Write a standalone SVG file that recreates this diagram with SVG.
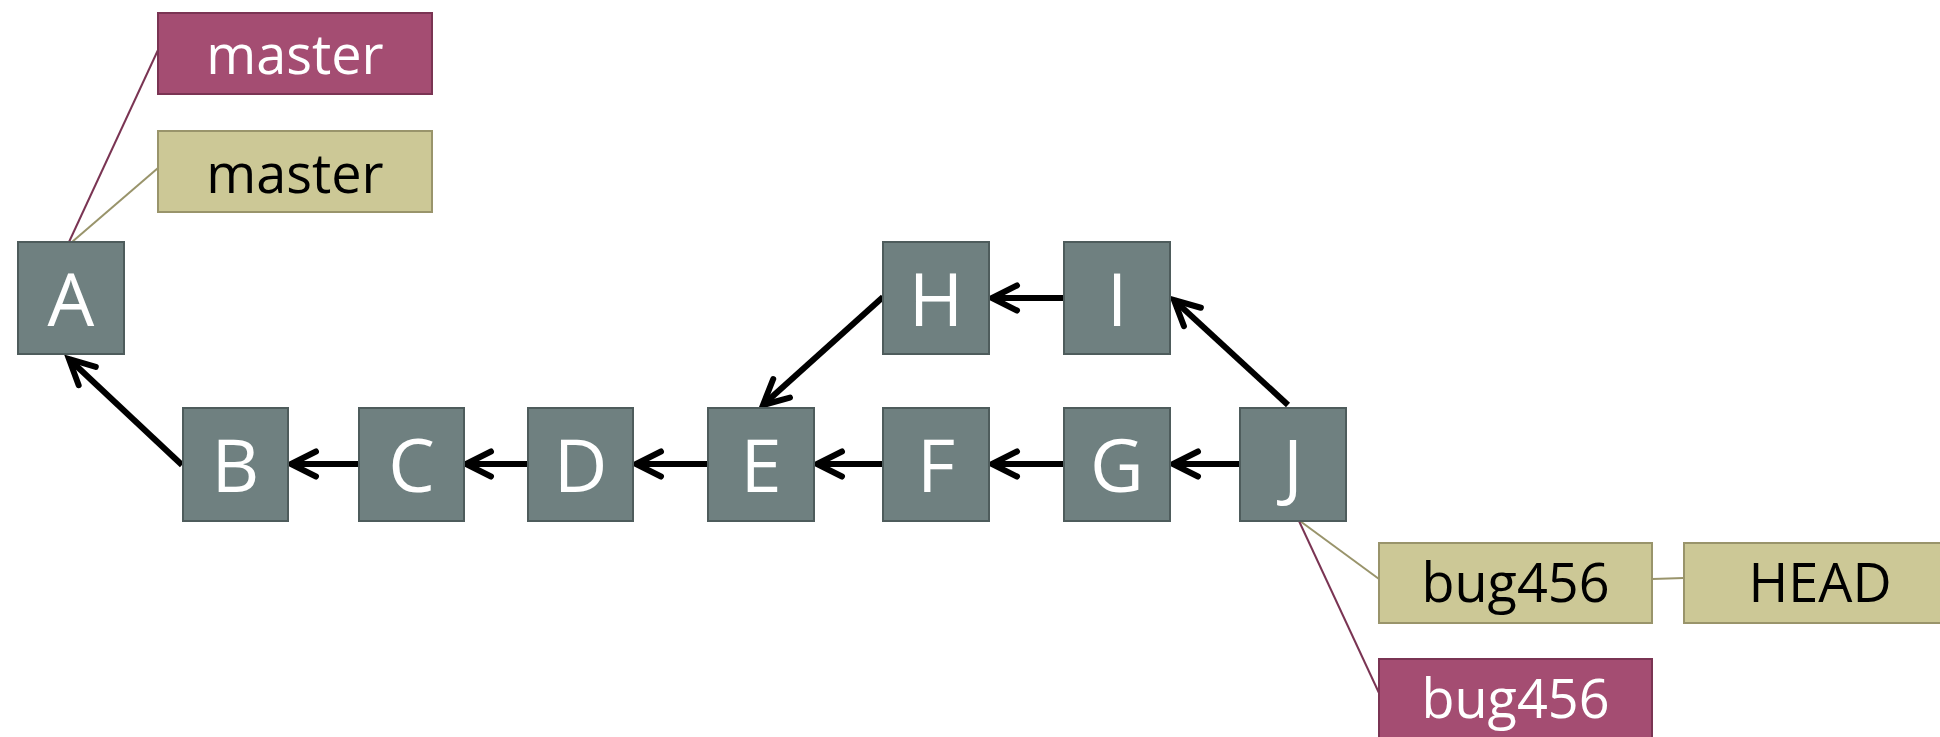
<svg xmlns="http://www.w3.org/2000/svg" width="1940" height="737" viewBox="0 0 1940 737">
<style>
.commit rect{fill:#6F8080;stroke:#4E5C5C;stroke-width:2}
.commit text{fill:#FFFFFF;font-family:"Open Sans","Noto Sans",sans-serif;font-size:74px;text-anchor:middle}
.red rect{fill:#A44D72;stroke:#7A3453;stroke-width:2}
.red text{fill:#FFFFFF;font-family:"Open Sans","Noto Sans",sans-serif;font-size:54px;text-anchor:middle}
.olive rect{fill:#CCC896;stroke:#99946B;stroke-width:2}
.olive text{fill:#000000;font-family:"Open Sans","Noto Sans",sans-serif;font-size:54px;text-anchor:middle}
.edge{stroke:#000;stroke-width:6;fill:none;marker-end:url(#arr)}
.lred{stroke:#7A3453;stroke-width:2;fill:none}
.lolive{stroke:#99946B;stroke-width:2;fill:none}
</style>
<defs>
<marker id="arr" markerUnits="userSpaceOnUse" viewBox="-30 -18 36 36" markerWidth="36" markerHeight="36" refX="0" refY="0" orient="auto" overflow="visible">
<path d="M -25,-12.5 L 0,0 L -25,12.5" fill="none" stroke="#000" stroke-width="6" stroke-linecap="round" stroke-linejoin="miter"/>
</marker>
</defs>
<rect width="1940" height="737" fill="#FFFFFF"/>
<g id="connectors">
<line class="lred" x1="69" y1="242" x2="158" y2="50"/>
<line class="lolive" x1="72" y1="242" x2="158" y2="168"/>
<line class="lolive" x1="1300" y1="521" x2="1379" y2="579"/>
<line class="lred" x1="1299" y1="521" x2="1379" y2="693"/>
<line class="lolive" x1="1652" y1="579" x2="1684" y2="578"/>
<line class="edge" x1="182" y1="465" x2="69" y2="359"/>
<line class="edge" x1="359" y1="464" x2="291" y2="464"/>
<line class="edge" x1="528" y1="464" x2="466" y2="464"/>
<line class="edge" x1="708" y1="464" x2="636" y2="464"/>
<line class="edge" x1="883" y1="464" x2="817" y2="464"/>
<line class="edge" x1="1064" y1="464" x2="992" y2="464"/>
<line class="edge" x1="1240" y1="464" x2="1173" y2="464"/>
<line class="edge" x1="1064" y1="298" x2="992" y2="298"/>
<line class="edge" x1="883" y1="297" x2="763" y2="405"/>
<line class="edge" x1="1288" y1="405" x2="1174" y2="300"/>
</g>
<g id="master-red" class="red"><rect x="158" y="13" width="274" height="81"/><text x="295" y="74">master</text></g>
<g id="master-olive" class="olive"><rect x="158" y="131" width="274" height="81"/><text x="295" y="193">master</text></g>
<g id="A" class="commit"><rect x="18" y="242" width="106" height="112"/><text x="71" y="326">A</text></g>
<g id="B" class="commit"><rect x="183" y="408" width="105" height="113"/><text x="235.5" y="492">B</text></g>
<g id="C" class="commit"><rect x="359" y="408" width="105" height="113"/><text x="411.5" y="492">C</text></g>
<g id="D" class="commit"><rect x="528" y="408" width="105" height="113"/><text x="580.5" y="492">D</text></g>
<g id="E" class="commit"><rect x="708" y="408" width="106" height="113"/><text x="761" y="492">E</text></g>
<g id="F" class="commit"><rect x="883" y="408" width="106" height="113"/><text x="936" y="492">F</text></g>
<g id="G" class="commit"><rect x="1064" y="408" width="106" height="113"/><text x="1117" y="492">G</text></g>
<g id="J" class="commit"><rect x="1240" y="408" width="106" height="113"/><text x="1293" y="492">J</text></g>
<g id="H" class="commit"><rect x="883" y="242" width="106" height="112"/><text x="936" y="326">H</text></g>
<g id="I" class="commit"><rect x="1064" y="242" width="106" height="112"/><text x="1117" y="326">I</text></g>
<g id="bug456-olive" class="olive"><rect x="1379" y="543" width="273" height="80"/><text x="1515.5" y="602">bug456</text></g>
<g id="HEAD" class="olive"><rect x="1684" y="543" width="273" height="80"/><text x="1820" y="602">HEAD</text></g>
<g id="bug456-red" class="red"><rect x="1379" y="659" width="273" height="90"/><text x="1515.5" y="718">bug456</text></g>
</svg>
